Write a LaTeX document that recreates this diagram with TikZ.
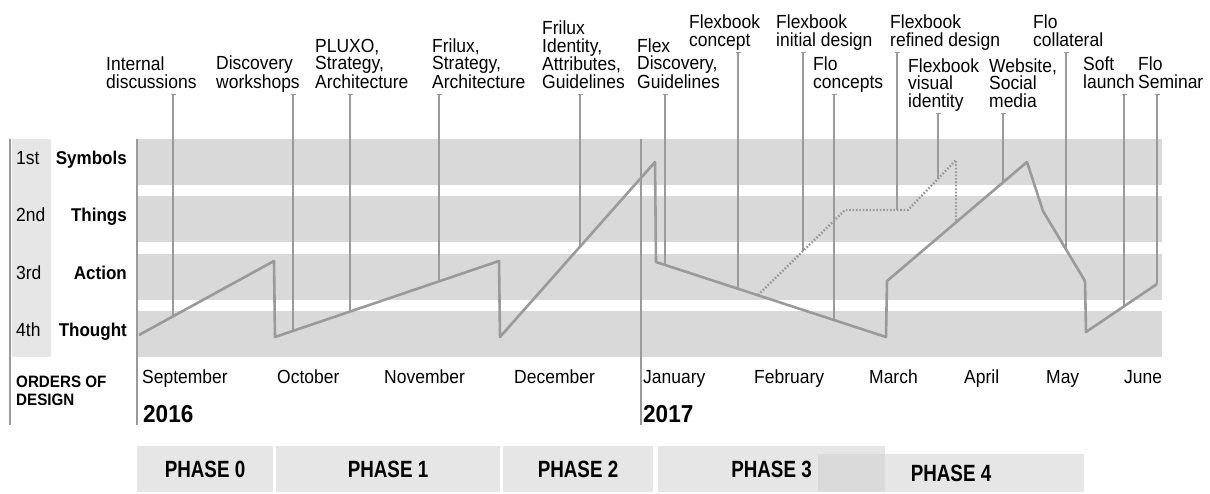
\documentclass[tikz,border=0pt]{standalone}
\usepackage{fontspec}
\setmainfont{Liberation Sans}[FakeStretch=0.92]
\newfontfamily\condfont{Liberation Sans}[FakeStretch=0.8]
\usepackage{tikz}
\usetikzlibrary{arrows.meta, positioning, calc}
\definecolor{bandgray}{HTML}{D9D9D9}
\definecolor{colgray}{HTML}{E6E6E6}
\definecolor{overgray}{HTML}{DADADA}
\definecolor{linegray}{HTML}{9A9A9A}

\begin{document}
\begin{tikzpicture}[x=1pt, y=-1pt,
    band/.style={fill=bandgray},
    axis/.style={linegray, line width=1.2pt},
    curve/.style={linegray, line width=2.6pt, line join=round},
    dots/.style={linegray, line width=2.4pt, dash pattern=on 1.6pt off 1.8pt},
    leader/.style={linegray, line width=1.2pt, {Bar[width=5pt]}-},
    event/.style={anchor=south west, inner sep=0pt, align=left, font=\fontsize{19}{17.6}\selectfont},
    month/.style={anchor=base west, inner sep=0pt, font=\fontsize{19}{17.6}\selectfont},
    year/.style={anchor=base west, inner sep=0pt, font=\fontsize{24.5}{24.5}\selectfont\bfseries},
    order/.style={anchor=mid west, inner sep=0pt, font=\fontsize{19}{19}\selectfont},
    level/.style={anchor=mid east, inner sep=0pt, font=\fontsize{18.5}{18.5}\selectfont\bfseries},
    phase/.style={fill=colgray, inner sep=0pt, outer sep=0pt, font=\fontsize{23.5}{23.5}\condfont\bfseries}]
    \useasboundingbox (0,0) rectangle (1210,493);

    % Bands
    \fill[colgray] (12,139) rectangle (51,357);
    \fill[band] (138,139) rectangle (1162,185);
    \fill[band] (138,196) rectangle (1162,242);
    \fill[band] (138,254) rectangle (1162,300);
    \fill[band] (138,311) rectangle (1162,357);

    % Frame lines
    \draw[axis] (10,139) -- (10,425);
    \draw[axis] (137,139) -- (137,425);
    \draw[axis] (641,139) -- (641,425);

    % Orders
    \node[order] (o1) at (16,162) {1st};
    \node[order] (o2) at (16,219) {2nd};
    \node[order] (o3) at (16,277) {3rd};
    \node[order] (o4) at (16,334) {4th};
    \node[level] (symbols) at (127,162) {Symbols};
    \node[level] (things) at (127,219) {Things};
    \node[level] (action) at (127,277) {Action};
    \node[level] (thought) at (127,334) {Thought};
    \node[anchor=base west, inner sep=0pt, align=left,
          font=\fontsize{16.5}{18}\selectfont\bfseries] (orders) at (16,405) {ORDERS OF\\DESIGN};

    % Curve points
    \coordinate (g0) at (139,335);
    \coordinate (g1) at (274,261);
    \coordinate (g2) at (275,337);
    \coordinate (g3) at (499,261);
    \coordinate (g4) at (500,337);
    \coordinate (g5) at (655,162);
    \coordinate (g6) at (656,262);
    \coordinate (g7) at (886,337);
    \coordinate (g8) at (887,281);
    \coordinate (g9) at (1027,162);
    \coordinate (g10) at (1043,211);
    \coordinate (g11) at (1085,281);
    \coordinate (g12) at (1086,332);
    \coordinate (g13) at (1157,284);
    \coordinate (d0) at (758,295);
    \coordinate (d1) at (845,210);
    \coordinate (d2) at (908,210);
    \coordinate (d3) at (956,160);
    \coordinate (d4) at (956,222);

    % Events
    \node[event] (l1) at (106,94) {Internal\\discussions\strut};
    \node[event] (l2) at (216,94) {Discovery\\workshops\strut};
    \node[event] (l3) at (315,94) {PLUXO,\\Strategy,\\Architecture\strut};
    \node[event] (l4) at (432,94) {Frilux,\\Strategy,\\Architecture\strut};
    \node[event] (l5) at (542,94) {Frilux\\Identity,\\Attributes,\\Guidelines\strut};
    \node[event] (l6) at (637,94) {Flex\\Discovery,\\Guidelines\strut};
    \node[event] (l7) at (689,52) {Flexbook\\concept\strut};
    \node[event] (l8) at (776,52) {Flexbook\\initial design\strut};
    \node[event] (l9) at (813,94) {Flo\\concepts\strut};
    \node[event] (l10) at (890,52) {Flexbook\\refined design\strut};
    \node[event] (l11) at (908,113) {Flexbook\\visual\\identity\strut};
    \node[event] (l12) at (989,113) {Website,\\Social\\media\strut};
    \node[event] (l13) at (1033,52) {Flo\\collateral\strut};
    \node[event] (l14) at (1083,94) {Soft\\launch\strut};
    \node[event] (l15) at (1138,94) {Flo\\Seminar\strut};

    % Leader ends
    \coordinate (e1) at (173,316);
    \coordinate (e2) at (293,331);
    \coordinate (e3) at (350,312);
    \coordinate (e4) at (439,281);
    \coordinate (e5) at (580,247);
    \coordinate (e6) at (665,265);
    \coordinate (e7) at (738,289);
    \coordinate (e8) at (803,251);
    \coordinate (e9) at (834,320);
    \coordinate (e10) at (897,210);
    \coordinate (e11) at (938,179);
    \coordinate (e12) at (1003,182);
    \coordinate (e13) at (1066,249);
    \coordinate (e14) at (1124,306);
    \coordinate (e15) at (1157,284);

    \draw[leader] (l1.south -| e1) -- (e1);
    \draw[leader] (l2.south -| e2) -- (e2);
    \draw[leader] (l3.south -| e3) -- (e3);
    \draw[leader] (l4.south -| e4) -- (e4);
    \draw[leader] (l5.south -| e5) -- (e5);
    \draw[leader] (l6.south -| e6) -- (e6);
    \draw[leader] (l7.south -| e7) -- (e7);
    \draw[leader] (l8.south -| e8) -- (e8);
    \draw[leader] (l9.south -| e9) -- (e9);
    \draw[leader] (l10.south -| e10) -- (e10);
    \draw[leader] (l11.south -| e11) -- (e11);
    \draw[leader] (l12.south -| e12) -- (e12);
    \draw[leader] (l13.south -| e13) -- (e13);
    \draw[leader] (l14.south -| e14) -- (e14);
    \draw[leader] (l15.south -| e15) -- (e15);

    % Curve
    \draw[dots] (d0) -- (d1) -- (d2) -- (d3) -- (d4);
    \draw[curve] (g0) -- (g1) -- (g2) -- (g3) -- (g4) -- (g5) -- (g6) -- (g7)
        -- (g8) -- (g9) -- (g10) -- (g11) -- (g12) -- (g13);

    % Months
    \node[month] (sep) at (142,383) {September};
    \node[month] (oct) at (277,383) {October};
    \node[month] (nov) at (384,383) {November};
    \node[month] (dec) at (514,383) {December};
    \node[month] (jan) at (643,383) {January};
    \node[month] (feb) at (754,383) {February};
    \node[month] (mar) at (869,383) {March};
    \node[month] (apr) at (964,383) {April};
    \node[month] (may) at (1046,383) {May};
    \node[month] (jun) at (1124,383) {June};
    \node[year] (y16) at (143,422) {2016};
    \node[year] (y17) at (643,422) {2017};

    % Phases
    \node[phase, minimum width=136pt, minimum height=46pt] (p0) at (205,469) {PHASE 0};
    \node[phase, minimum width=224pt, minimum height=46pt] (p1) at (388,469) {PHASE 1};
    \node[phase, minimum width=150pt, minimum height=46pt] (p2) at (578,469) {PHASE 2};
    \node[phase, minimum width=227pt, minimum height=46pt] (p3) at (771.5,469) {PHASE 3};
    \node[phase, minimum width=266pt, minimum height=38pt] (p4) at (951,473) {PHASE 4};
    \fill[overgray] (p4.north west) rectangle (p3.south east);
\end{tikzpicture}
\end{document}
